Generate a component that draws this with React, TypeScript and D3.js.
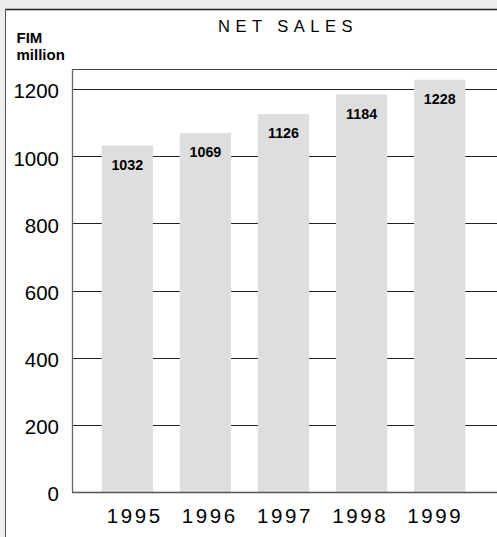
import React from "react";
import * as d3 from "d3";

const years = ["1995", "1996", "1997", "1998", "1999"];
const netSales = [1032, 1069, 1126, 1184, 1228];
const yTicks = [0, 200, 400, 600, 800, 1000, 1200];
const title = "NET SALES";
const unitLines = ["FIM", "million"];

const W = 497;
const H = 537;

export default function App() {
  const y = d3.scaleLinear().domain([0, 1260]).range([492, 69]);
  const x = d3
    .scaleBand<string>()
    .domain(years)
    .range([72, 495])
    .paddingInner(0.344)
    .paddingOuter(0.38);
  const xl = d3.scalePoint<string>().domain(years).range([106.7, 407.3]);

  return (
    <svg
      width={W}
      height={H}
      style={{ position: "absolute", left: 0, top: 0, display: "block" }}
      fontFamily="'Liberation Sans', Arial, Helvetica, sans-serif"
    >
      <rect x={0} y={0} width={W} height={H} fill="#ededed" />
      <rect x={5} y={9.5} width={W} height={H} fill="#ffffff" />
      <line x1={5} x2={W} y1={9.5} y2={9.5} stroke="#222" strokeWidth={1.5} />
      <line x1={5.5} x2={5.5} y1={9} y2={H} stroke="#555" strokeWidth={1} />

      <text x={218} y={31.8} fontSize={16.5} letterSpacing={5.5} fill="#000">
        {title}
      </text>
      {unitLines.map((t, i) => (
        <text
          key={t}
          x={16.5}
          y={43.3 + i * 16.7}
          fontSize={15}
          fontWeight="bold"
          fill="#000"
        >
          {t}
        </text>
      ))}

      {/* plot frame top */}
      <line x1={72} x2={W} y1={69.5} y2={69.5} stroke="#444" strokeWidth={1} />

      {/* gridlines */}
      {yTicks.slice(1).map((t) => (
        <line
          key={t}
          x1={72}
          x2={W}
          y1={Math.round(y(t)) + 0.5}
          y2={Math.round(y(t)) + 0.5}
          stroke="#222"
          strokeWidth={1}
        />
      ))}

      {/* bars */}
      {years.map((yr, i) => (
        <rect
          key={yr}
          x={x(yr)}
          y={y(netSales[i])}
          width={x.bandwidth()}
          height={y(0) - y(netSales[i])}
          fill="#dedede"
        />
      ))}
      {years.map((yr, i) => (
        <text
          key={yr + "l"}
          x={(x(yr) as number) + x.bandwidth() / 2}
          y={y(netSales[i]) + 24}
          textAnchor="middle"
          fontSize={14.3}
          fontWeight="bold"
          fill="#000"
        >
          {netSales[i]}
        </text>
      ))}

      {/* axes */}
      <line x1={72.5} x2={72.5} y1={69} y2={492.5} stroke="#666" strokeWidth={1.3} />
      <line x1={72} x2={W} y1={492.5} y2={492.5} stroke="#555" strokeWidth={1.3} />

      {yTicks.map((t) => (
        <text
          key={t}
          x={59}
          y={y(t) + 9.3}
          textAnchor="end"
          fontSize={20.5}
          fill="#000"
        >
          {t}
        </text>
      ))}

      {years.map((yr) => (
        <text
          key={yr + "x"}
          x={xl(yr)}
          y={523}
          fontSize={20.5}
          letterSpacing={2.6}
          fill="#000"
        >
          {yr}
        </text>
      ))}
    </svg>
  );
}
